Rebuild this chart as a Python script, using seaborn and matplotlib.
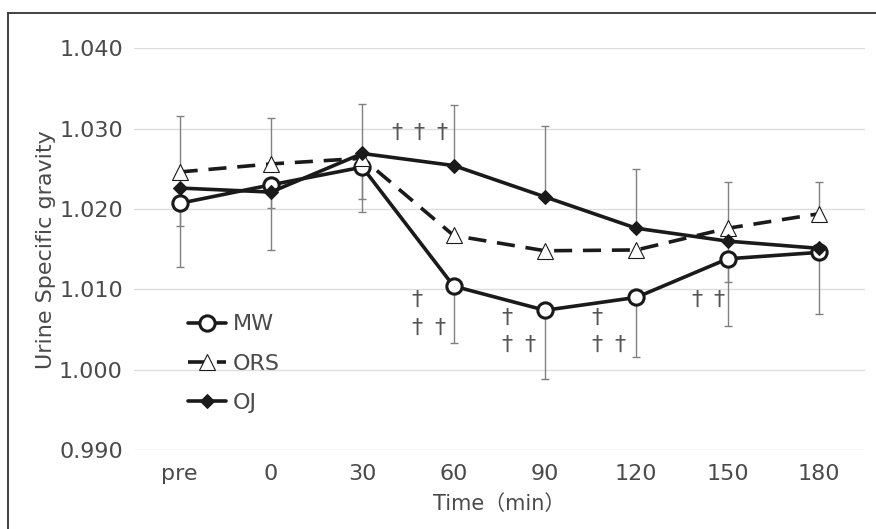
import numpy as np
import pandas as pd
import matplotlib
matplotlib.use('Agg')
import matplotlib.pyplot as plt
from matplotlib.lines import Line2D
import seaborn as sns

# data
times = ['pre', '0', '30', '60', '90', '120', '150', '180']
mw = [1.0207, 1.0230, 1.0252, 1.0104, 1.0074, 1.0090, 1.0138, 1.0146]
ors = [1.0246, 1.0256, 1.0263, 1.0167, 1.0148, 1.0149, 1.0176, 1.0194]
oj = [1.0226, 1.0221, 1.0269, 1.0254, 1.0215, 1.0176, 1.0160, 1.0151]

# one-sided SD bars as drawn (0 = not shown)
mw_err_lo = [0.0079, 0.0081, 0.0056, 0.0071, 0.0086, 0.0074, 0.0083, 0.0077]
ors_err_hi = [0.0069, 0.0057, 0.0, 0.0, 0.0, 0.0, 0.0058, 0.0039]
ors_err_lo = [0.0, 0.0, 0.0050, 0.0, 0.0, 0.0, 0.0, 0.0]
oj_err_hi = [0.0, 0.0, 0.0061, 0.0075, 0.0088, 0.0074, 0.0, 0.0]
oj_err_lo = [0.0047, 0.0020, 0.0, 0.0, 0.0, 0.0, 0.0051, 0.0]

# dagger marks (x in category units, y value)
dag_x = [2.38, 2.62, 2.87,
         2.60, 2.60, 2.85,
         3.58, 3.58, 3.83,
         4.57, 4.57, 4.82,
         5.66, 5.91]
dag_y = [1.0294, 1.0294, 1.0294,
         1.0087, 1.0052, 1.0052,
         1.0064, 1.0031, 1.0031,
         1.0064, 1.0031, 1.0031,
         1.0087, 1.0087]

sns.set_style('white')
plt.rcParams['font.family'] = ['DejaVu Sans', 'Noto Sans CJK KR']

fig = plt.figure(figsize=(8.76, 5.29), dpi=100)
ax = fig.add_axes([0.153, 0.149, 0.834, 0.760])

pos = np.arange(len(times))
df = pd.DataFrame({'pos': np.tile(pos, 3),
                   'value': mw + ors + oj,
                   'group': ['MW'] * 8 + ['ORS'] * 8 + ['OJ'] * 8})

ecol = '#808080'
ekw = dict(fmt='none', ecolor=ecol, elinewidth=1.0, capsize=3, capthick=1.0, zorder=1)
ax.errorbar(pos, mw, yerr=[mw_err_lo, [0] * 8], **ekw)
ax.errorbar(pos, ors, yerr=[ors_err_lo, ors_err_hi], **ekw)
ax.errorbar(pos, oj, yerr=[oj_err_lo, oj_err_hi], **ekw)

col = '#1a1a1a'
sns.lineplot(data=df[df.group == 'MW'], x='pos', y='value', ax=ax, color=col,
             lw=2.6, marker='o', ms=11, mfc='white', mec=col, mew=2.2,
             label='MW', zorder=3)
sns.lineplot(data=df[df.group == 'ORS'], x='pos', y='value', ax=ax, color=col,
             lw=2.6, ls=(0, (5, 3)), marker='^', ms=11, mfc='white', mec=col,
             mew=0.8, label='ORS', zorder=3)
sns.lineplot(data=df[df.group == 'OJ'], x='pos', y='value', ax=ax, color=col,
             lw=2.6, marker='D', ms=7, mfc=col, mec=col, label='OJ', zorder=4)

for x, y in zip(dag_x, dag_y):
    ax.text(x, y, '†', fontsize=16, color='#555555', ha='center', va='center')

txt = '#4a4a4a'
ax.set_xlim(-0.5, 7.5)
ax.set_ylim(0.990, 1.040)
ax.set_yticks([0.990, 1.000, 1.010, 1.020, 1.030, 1.040])
ax.set_yticklabels(['0.990', '1.000', '1.010', '1.020', '1.030', '1.040'])
ax.set_xticks(pos)
ax.set_xticklabels(times)
ax.tick_params(axis='both', length=0, labelsize=16, colors=txt)
ax.tick_params(axis='y', pad=8)
ax.tick_params(axis='x', pad=10)
ax.grid(axis='y', color='#dddddd', lw=1.0)
ax.set_axisbelow(True)
for s in ax.spines.values():
    s.set_visible(False)

ax.set_xlabel('Time（min）', fontsize=15, color=txt, labelpad=7)
ax.set_ylabel('Urine Specific gravity', fontsize=16, color=txt, labelpad=2)

leg = ax.legend(loc='upper left', bbox_to_anchor=(0.062, 0.36), frameon=False,
                fontsize=16, handlelength=1.7, labelspacing=0.87, handletextpad=0.3,
                borderaxespad=0)
for t in leg.get_texts():
    t.set_color(txt)

# frame around the figure (top and left visible)
fig.add_artist(Line2D([0.009, 1.0], [0.975, 0.975], color='#333333', lw=1.3))
fig.add_artist(Line2D([0.009, 0.009], [0.975, 0.0], color='#333333', lw=1.3))

fig.savefig('out.png', dpi=100)
